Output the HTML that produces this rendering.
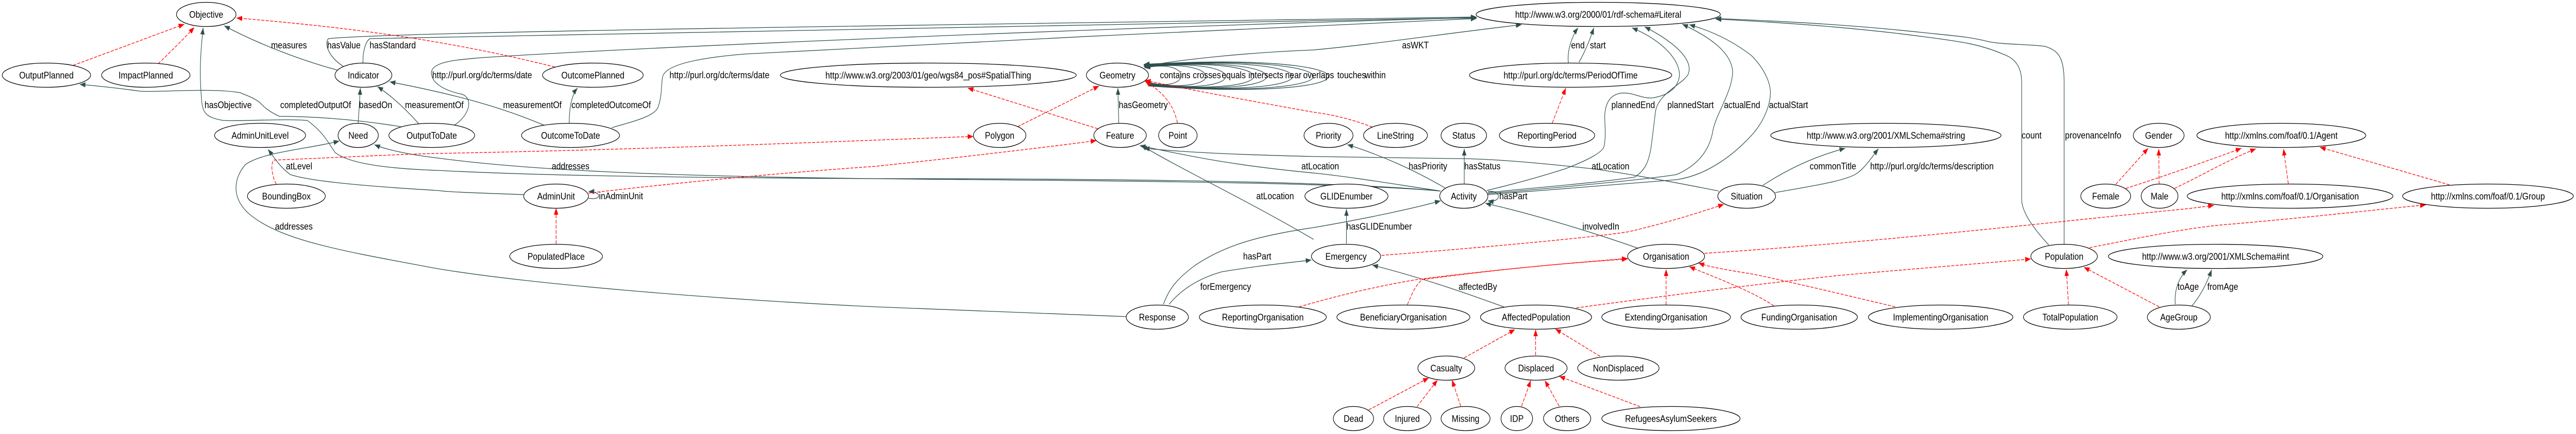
<!DOCTYPE html>
<html><head><meta charset="utf-8"><style>
html,body{margin:0;padding:0;background:#fff;width:100%;height:100%;overflow:hidden;}
svg{display:block;width:100vw;height:100vh;}
text{font-family:"Liberation Sans",Arial,sans-serif;font-size:18.67px;fill:#000;}
.n{text-anchor:middle;}
.s{fill:none;stroke:#2f4f4f;stroke-width:1.3;stroke-linejoin:round;}
.d{fill:none;stroke:#ff0000;stroke-width:1.3;stroke-dasharray:7,3;stroke-linejoin:round;}
ellipse{fill:#fff;stroke:#000;stroke-width:1.3;}
</style></head><body>
<svg viewBox="0 0 5883 843" preserveAspectRatio="none" xmlns="http://www.w3.org/2000/svg">
<defs>
<marker id="a" markerUnits="userSpaceOnUse" markerWidth="13" markerHeight="10" refX="13" refY="5" orient="auto" viewBox="0 0 13 10"><path d="M0,0 L13,5 L0,10 z" fill="#2f4f4f"/></marker>
<marker id="r" markerUnits="userSpaceOnUse" markerWidth="13" markerHeight="10" refX="13" refY="5" orient="auto" viewBox="0 0 13 10"><path d="M0,0 L13,5 L0,10 z" fill="#ff0000"/></marker>
</defs>

<g class="s" marker-end="url(#a)">
<path d="M770,136 C700,120 600,90 512,50"/>
<path d="M784,129 C750,110 740,85 750,75 C900,62 2000,50 3372,33"/>
<path d="M829,123 C828,100 835,80 845,75 C1000,66 2200,46 3372,35"/>
<path d="M957,241 C930,215 900,190 862,168"/>
<path d="M818,239 L823,171"/>
<path d="M1242,243 C1150,210 1050,185 890,159"/>
<path d="M1038,243 C1075,222 1080,190 1055,183 C1010,175 985,160 985,140 C990,118 1050,116 1100,112 C1500,90 2500,55 3372,34"/>
<path d="M1300,239 C1300,210 1305,185 1319,171"/>
<path d="M1397,248 C1450,235 1500,225 1504,205 C1512,185 1510,165 1513,150 C1518,125 1600,112 1700,105 C2200,80 2900,55 3372,36"/>
<path d="M915,246 C800,230 700,226 638,226 C610,215 600,205 593,199 C580,190 560,184 548,180 C480,170 360,180 319,177 C260,170 200,165 182,164"/>
<path d="M3288,371 C3000,347 2200,347 2000,347 C1500,345 1200,340 1000,331 C900,328 800,320 765,296 C745,270 735,255 702,234 C650,230 550,236 510,234 C470,228 462,220 460,190 C455,140 458,100 464,54"/>
<path d="M3288,371 C3000,350 2200,350 2000,347 C1500,342 1200,330 1000,307 C930,300 880,290 855,281"/>
<path d="M2573,615 C2300,605 2100,600 2000,596 C1600,580 1200,550 1000,522 C800,490 650,470 574,419 C530,390 530,350 560,320 C600,295 700,290 775,274"/>
<path d="M1196,378 C1100,375 1020,373 1000,370 C800,360 700,350 663,339 C640,325 625,305 612,290"/>
<path d="M1344,385 C1375,390 1375,372 1344,372"/>
<path d="M2555,239 L2553,171"/>
<path d="M2612,129 C2700,115 2850,102 3000,97 C3150,85 3300,65 3475,48"/>
<path d="M3290,371 C3200,360 3100,345 3000,336 C2800,320 2700,300 2603,283"/>
<path d="M3925,371 C3800,350 3700,335 3638,328 C3500,315 3400,308 3319,308 C3200,306 3100,305 3000,304 C2800,300 2700,295 2612,288"/>
<path d="M3000,465 C2850,390 2700,330 2606,282"/>
<path d="M2670,591 C2700,560 2740,540 2790,528 C2880,515 2950,510 2995,505"/>
<path d="M2657,591 C2670,560 2690,540 2730,515 C2800,475 2880,457 3000,442 C3150,420 3250,400 3290,390"/>
<path d="M3075,473 L3075,406"/>
<path d="M3434,596 C3350,570 3250,540 3134,515"/>
<path d="M3740,482 C3650,455 3500,415 3392,395"/>
<path d="M3300,365 C3230,330 3150,300 3077,281"/>
<path d="M3344,358 L3344,289"/>
<path d="M3398,372 C3430,368 3430,395 3398,390"/>
<path d="M3395,370 C3470,355 3530,340 3574,328 C3630,310 3660,295 3663,285 C3670,260 3662,230 3666,215 C3670,195 3680,185 3700,181 C3730,178 3750,193 3775,190 C3810,185 3830,172 3835,150 C3840,120 3800,80 3727,54"/>
<path d="M3398,374 C3500,365 3650,355 3733,344 C3760,330 3765,310 3770,290 C3775,260 3778,235 3781,215 C3790,180 3840,165 3855,145 C3870,115 3820,80 3756,52"/>
<path d="M3398,376 C3550,365 3750,350 3829,339 C3880,320 3905,290 3912,253 C3920,220 3955,180 3957,140 C3955,100 3900,70 3842,47"/>
<path d="M3398,378 C3550,368 3750,355 3829,349 C3900,340 3960,300 4000,263 C4030,235 4045,200 4043,175 C4040,150 4020,125 4000,108 C3950,75 3900,58 3858,48"/>
<path d="M3582,123 C3578,100 3590,70 3604,54"/>
<path d="M3606,121 C3620,100 3630,80 3640,54"/>
<path d="M4679,476 C4640,440 4617,410 4617,387 L4617,160 C4617,120 4590,110 4574,105 C4520,85 4470,80 4400,72 C4250,55 4100,45 3918,37"/>
<path d="M4714,475 L4714,160 C4714,110 4700,98 4670,90 C4620,85 4580,87 4542,81 C4500,72 4470,70 4400,64 C4250,50 4100,42 3918,36"/>
<path d="M4026,360 C4080,330 4140,305 4214,288"/>
<path d="M4054,374 C4150,360 4220,350 4242,336 C4260,325 4275,305 4290,289"/>
<path d="M4968,591 C4965,565 4975,540 4995,524"/>
<path d="M5006,594 C5025,575 5040,550 5051,524"/>
</g>
<g class="s" marker-end="url(#a)">
<path d="M2616,158 C2720,185 2730,112 2614,132"/>
<path d="M2618,160 C2800,188 2800,110 2614,131"/>
<path d="M2620,162 C2860,190 2860,108 2614,130"/>
<path d="M2620,163 C2945,192 2945,106 2613,129"/>
<path d="M2621,164 C2985,194 2985,104 2613,128"/>
<path d="M2621,165 C3064,196 3064,102 2612,127"/>
<path d="M2622,166 C3127,198 3127,100 2612,126"/>
<path d="M2622,167 C3173,200 3173,98 2612,125"/>
</g>

<g class="d" marker-end="url(#r)">
<path d="M167,127 L421,47"/>
<path d="M361,124 C390,100 420,75 444,53"/>
<path d="M1267,130 C1100,95 900,60 540,35"/>
<path d="M2324,246 L2510,167"/>
<path d="M2507,250 L2210,171"/>
<path d="M2689,239 C2680,200 2650,175 2615,158"/>
<path d="M3134,247 C3090,232 3040,222 3000,218 C2850,195 2720,175 2615,156"/>
<path d="M631,358 C620,340 618,318 625,311 C800,305 900,300 1000,298 C1500,290 1900,275 2223,265"/>
<path d="M1344,375 C1600,350 1800,335 2000,323 C2200,305 2400,285 2504,273"/>
<path d="M1270,474 L1270,404"/>
<path d="M3545,239 L3576,171"/>
<path d="M3155,496 C3400,480 3650,460 3720,450 C3820,430 3890,410 3937,397"/>
<path d="M2967,596 C3050,575 3150,555 3236,543 C3450,520 3600,510 3717,503"/>
<path d="M3214,592 C3225,570 3235,550 3249,543 C3450,520 3600,510 3717,502"/>
<path d="M3805,592 L3805,523"/>
<path d="M4051,594 C4000,565 3920,540 3858,518"/>
<path d="M4328,596 C4200,570 4050,540 4000,532 C3950,525 3910,520 3879,511"/>
<path d="M3893,492 C4300,470 4700,430 5000,405 L5056,399"/>
<path d="M3600,598 C3800,575 4000,553 4200,535 C4400,520 4550,510 4638,503"/>
<path d="M4772,481 C4900,460 5000,441 5100,435 C5300,420 5450,405 5540,398"/>
<path d="M4832,358 L4906,288"/>
<path d="M4931,358 L4930,289"/>
<path d="M4855,366 C4950,340 5050,310 5119,288"/>
<path d="M4966,366 C5030,340 5090,310 5152,289"/>
<path d="M5226,357 L5215,289"/>
<path d="M5594,359 L5298,286"/>
<path d="M4724,592 L4719,523"/>
<path d="M4931,596 L4759,519"/>
<path d="M3344,695 L3460,640"/>
<path d="M3507,690 L3507,640"/>
<path d="M3654,692 L3552,639"/>
<path d="M3126,796 L3263,734"/>
<path d="M3236,790 L3283,738"/>
<path d="M3336,789 L3316,738"/>
<path d="M3475,789 L3496,739"/>
<path d="M3561,789 L3528,739"/>
<path d="M3746,790 L3561,731"/>
</g>

<g>
<ellipse cx="471" cy="28" rx="68" ry="23.5"/><text class="n" x="471" y="34.5">Objective</text>
<ellipse cx="3650" cy="28" rx="279" ry="23.5"/><text class="n" x="3650" y="34.5">http://www.w3.org/2000/01/rdf-schema#Literal</text>
<ellipse cx="106" cy="146" rx="101" ry="23.5"/><text class="n" x="106" y="152.5">OutputPlanned</text>
<ellipse cx="333" cy="146" rx="101" ry="23.5"/><text class="n" x="333" y="152.5">ImpactPlanned</text>
<ellipse cx="830" cy="146" rx="65" ry="23.5"/><text class="n" x="830" y="152.5">Indicator</text>
<ellipse cx="1354" cy="146" rx="115" ry="23.5"/><text class="n" x="1354" y="152.5">OutcomePlanned</text>
<ellipse cx="2120" cy="146" rx="338" ry="23.5"/><text class="n" x="2120" y="152.5">http://www.w3.org/2003/01/geo/wgs84_pos#SpatialThing</text>
<ellipse cx="2552" cy="146" rx="71" ry="23.5"/><text class="n" x="2552" y="152.5">Geometry</text>
<ellipse cx="3587" cy="146" rx="231" ry="23.5"/><text class="n" x="3587" y="152.5">http://purl.org/dc/terms/PeriodOfTime</text>
<ellipse cx="594" cy="263" rx="104" ry="23.5"/><text class="n" x="594" y="269.5">AdminUnitLevel</text>
<ellipse cx="818" cy="263" rx="46" ry="23.5"/><text class="n" x="818" y="269.5">Need</text>
<ellipse cx="986" cy="263" rx="98" ry="23.5"/><text class="n" x="986" y="269.5">OutputToDate</text>
<ellipse cx="1303" cy="263" rx="112" ry="23.5"/><text class="n" x="1303" y="269.5">OutcomeToDate</text>
<ellipse cx="2283" cy="263" rx="60" ry="23.5"/><text class="n" x="2283" y="269.5">Polygon</text>
<ellipse cx="2558" cy="263" rx="60" ry="23.5"/><text class="n" x="2558" y="269.5">Feature</text>
<ellipse cx="2690" cy="263" rx="44" ry="23.5"/><text class="n" x="2690" y="269.5">Point</text>
<ellipse cx="3034" cy="263" rx="56" ry="23.5"/><text class="n" x="3034" y="269.5">Priority</text>
<ellipse cx="3187" cy="263" rx="73" ry="23.5"/><text class="n" x="3187" y="269.5">LineString</text>
<ellipse cx="3343" cy="263" rx="52" ry="23.5"/><text class="n" x="3343" y="269.5">Status</text>
<ellipse cx="3533" cy="263" rx="109" ry="23.5"/><text class="n" x="3533" y="269.5">ReportingPeriod</text>
<ellipse cx="4307" cy="263" rx="263" ry="23.5"/><text class="n" x="4307" y="269.5">http://www.w3.org/2001/XMLSchema#string</text>
<ellipse cx="4930" cy="263" rx="58" ry="23.5"/><text class="n" x="4930" y="269.5">Gender</text>
<ellipse cx="5210" cy="263" rx="193" ry="23.5"/><text class="n" x="5210" y="269.5">http://xmlns.com/foaf/0.1/Agent</text>
<ellipse cx="654" cy="381" rx="89" ry="23.5"/><text class="n" x="654" y="387.5">BoundingBox</text>
<ellipse cx="1270" cy="381" rx="74" ry="23.5"/><text class="n" x="1270" y="387.5">AdminUnit</text>
<ellipse cx="3075" cy="381" rx="95" ry="23.5"/><text class="n" x="3075" y="387.5">GLIDEnumber</text>
<ellipse cx="3343" cy="381" rx="55" ry="23.5"/><text class="n" x="3343" y="387.5">Activity</text>
<ellipse cx="3989" cy="381" rx="66" ry="23.5"/><text class="n" x="3989" y="387.5">Situation</text>
<ellipse cx="4809" cy="381" rx="57" ry="23.5"/><text class="n" x="4809" y="387.5">Female</text>
<ellipse cx="4932" cy="381" rx="42" ry="23.5"/><text class="n" x="4932" y="387.5">Male</text>
<ellipse cx="5230" cy="381" rx="235" ry="23.5"/><text class="n" x="5230" y="387.5">http://xmlns.com/foaf/0.1/Organisation</text>
<ellipse cx="5682" cy="381" rx="195" ry="23.5"/><text class="n" x="5682" y="387.5">http://xmlns.com/foaf/0.1/Group</text>
<ellipse cx="1270" cy="498" rx="106" ry="23.5"/><text class="n" x="1270" y="504.5">PopulatedPlace</text>
<ellipse cx="3074" cy="498" rx="79" ry="23.5"/><text class="n" x="3074" y="504.5">Emergency</text>
<ellipse cx="3805" cy="498" rx="88" ry="23.5"/><text class="n" x="3805" y="504.5">Organisation</text>
<ellipse cx="4714" cy="498" rx="76" ry="23.5"/><text class="n" x="4714" y="504.5">Population</text>
<ellipse cx="5060" cy="498" rx="245" ry="23.5"/><text class="n" x="5060" y="504.5">http://www.w3.org/2001/XMLSchema#int</text>
<ellipse cx="2643" cy="616" rx="71" ry="23.5"/><text class="n" x="2643" y="622.5">Response</text>
<ellipse cx="2884" cy="616" rx="145" ry="23.5"/><text class="n" x="2884" y="622.5">ReportingOrganisation</text>
<ellipse cx="3205" cy="616" rx="152" ry="23.5"/><text class="n" x="3205" y="622.5">BeneficiaryOrganisation</text>
<ellipse cx="3508" cy="616" rx="127" ry="23.5"/><text class="n" x="3508" y="622.5">AffectedPopulation</text>
<ellipse cx="3805" cy="616" rx="147" ry="23.5"/><text class="n" x="3805" y="622.5">ExtendingOrganisation</text>
<ellipse cx="4109" cy="616" rx="133" ry="23.5"/><text class="n" x="4109" y="622.5">FundingOrganisation</text>
<ellipse cx="4432" cy="616" rx="165" ry="23.5"/><text class="n" x="4432" y="622.5">ImplementingOrganisation</text>
<ellipse cx="4728" cy="616" rx="107" ry="23.5"/><text class="n" x="4728" y="622.5">TotalPopulation</text>
<ellipse cx="4976" cy="616" rx="72" ry="23.5"/><text class="n" x="4976" y="622.5">AgeGroup</text>
<ellipse cx="3303" cy="715" rx="65" ry="23.5"/><text class="n" x="3303" y="721.5">Casualty</text>
<ellipse cx="3508" cy="715" rx="71" ry="23.5"/><text class="n" x="3508" y="721.5">Displaced</text>
<ellipse cx="3696" cy="715" rx="93" ry="23.5"/><text class="n" x="3696" y="721.5">NonDisplaced</text>
<ellipse cx="3091" cy="813" rx="46" ry="23.5"/><text class="n" x="3091" y="819.5">Dead</text>
<ellipse cx="3214" cy="813" rx="54" ry="23.5"/><text class="n" x="3214" y="819.5">Injured</text>
<ellipse cx="3347" cy="813" rx="56" ry="23.5"/><text class="n" x="3347" y="819.5">Missing</text>
<ellipse cx="3464" cy="813" rx="36" ry="23.5"/><text class="n" x="3464" y="819.5">IDP</text>
<ellipse cx="3579" cy="813" rx="54" ry="23.5"/><text class="n" x="3579" y="819.5">Others</text>
<ellipse cx="3816" cy="813" rx="158" ry="23.5"/><text class="n" x="3816" y="819.5">RefugeesAsylumSeekers</text>
</g>

<g>
<text x="619" y="94">measures</text>
<text x="747" y="94">hasValue</text>
<text x="844" y="94">hasStandard</text>
<text x="467" y="210">hasObjective</text>
<text x="640" y="210">completedOutputOf</text>
<text x="820" y="210">basedOn</text>
<text x="925" y="210">measurementOf</text>
<text x="653" y="329">atLevel</text>
<text x="628" y="446">addresses</text>
<text x="987" y="152">http://purl.org/dc/terms/date</text>
<text x="1149" y="210">measurementOf</text>
<text x="1305" y="210">completedOutcomeOf</text>
<text x="1529" y="152">http://purl.org/dc/terms/date</text>
<text x="1260" y="329">addresses</text>
<text x="1368" y="387">inAdminUnit</text>
<text x="2555" y="210">hasGeometry</text>
<text x="2869" y="387">atLocation</text>
<text x="2839" y="504">hasPart</text>
<text x="2741" y="563">forEmergency</text>
<text x="2972" y="329">atLocation</text>
<text x="2649" y="152">contains</text>
<text x="2724" y="152">crosses</text>
<text x="2790" y="152">equals</text>
<text x="2851" y="152">intersects</text>
<text x="2935" y="152">near</text>
<text x="2976" y="152">overlaps</text>
<text x="3054" y="152">touches</text>
<text x="3117" y="152">within</text>
<text x="3202" y="94">asWKT</text>
<text x="3588" y="94">end</text>
<text x="3631" y="94">start</text>
<text x="3680" y="210">plannedEnd</text>
<text x="3808" y="210">plannedStart</text>
<text x="3937" y="210">actualEnd</text>
<text x="4040" y="210">actualStart</text>
<text x="3217" y="329">hasPriority</text>
<text x="3344" y="329">hasStatus</text>
<text x="3635" y="329">atLocation</text>
<text x="3424" y="387">hasPart</text>
<text x="3075" y="446">hasGLIDEnumber</text>
<text x="3614" y="446">involvedIn</text>
<text x="3331" y="563">affectedBy</text>
<text x="4617" y="269">count</text>
<text x="4716" y="269">provenanceInfo</text>
<text x="4133" y="329">commonTitle</text>
<text x="4271" y="329">http://purl.org/dc/terms/description</text>
<text x="4973" y="563">toAge</text>
<text x="5041" y="563">fromAge</text>
</g>
</svg>
</body></html>
